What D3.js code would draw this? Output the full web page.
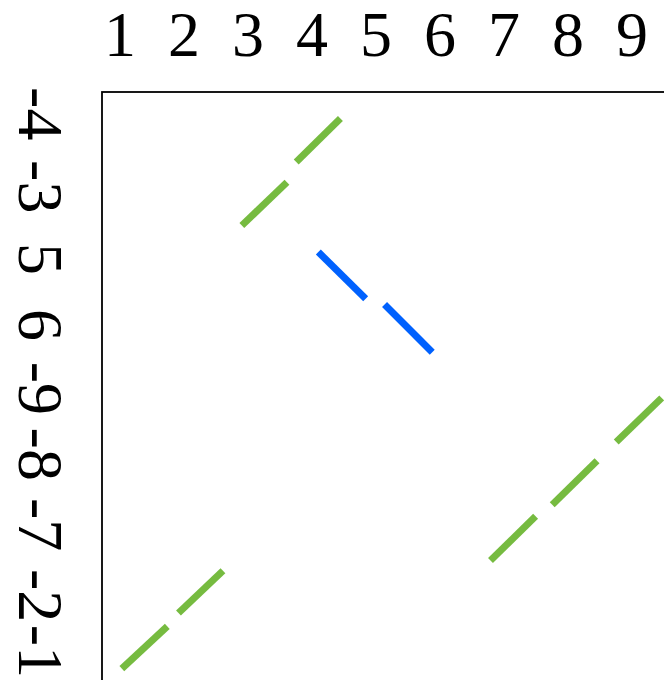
<!DOCTYPE html>
<html>
<head>
<meta charset="utf-8">
<script src="https://cdn.jsdelivr.net/npm/d3@7"></script>
<style>
  html, body { margin: 0; padding: 0; background: #fff; }
  svg { display: block; }
</style>
</head>
<body>
<div id="chart"></div>
<script>
// ---- data ----
const xLabels = ["1", "2", "3", "4", "5", "6", "7", "8", "9"];
const xTickPos = [2.8, 12.8, 22.8, 32.8, 42.8, 52.8, 62.8, 72.8, 82.8];
const yLabels = ["-4", "-3", "5", "6", "-9", "-8", "-7", "-2", "-1"];
const yTickPos = [3.4, 14.8, 26.1, 36.4, 46.3, 56.6, 67.6, 78.7, 87.4];

// synteny segments (genome coordinates)
const segX1 = [3.1, 11.95, 21.85, 30.35, 33.8, 44.15, 60.7, 70.35, 80.35];
const segY1 = [90.1, 81.4, 20.85, 10.95, 25.0, 33.2, 73.2, 64.5, 54.7];
const segX2 = [10.2, 18.9, 28.9, 37.25, 41.2, 51.6, 67.75, 77.35, 87.45];
const segY2 = [83.5, 74.8, 14.1, 4.15, 32.3, 40.65, 66.3, 57.6, 47.8];
const segStrand = ["-", "-", "-", "-", "+", "+", "-", "-", "-"];

// ---- layout ----
const W = 664, H = 680;
const marginLeft = 102, marginTop = 92;
const svg = d3.select("#chart").append("svg").attr("width", W).attr("height", H);
svg.append("rect").attr("width", W).attr("height", H).attr("fill", "#fff");

const x = d3.scaleLinear().domain([0, 100]).range([marginLeft, marginLeft + 640]);
const y = d3.scaleLinear().domain([0, 100]).range([marginTop, marginTop + 640]);
const color = d3.scaleOrdinal().domain(["+", "-"]).range(["#0061fe", "#76bb40"]);

// frame
svg.append("rect")
  .attr("x", x(0)).attr("y", y(0))
  .attr("width", x(100) - x(0)).attr("height", y(100) - y(0))
  .attr("fill", "none").attr("stroke", "#000").attr("stroke-width", 1.8);

const font = "'Liberation Serif', 'Times New Roman', serif";

// top labels
svg.append("g").selectAll("text").data(xLabels).join("text")
  .attr("x", (d, i) => x(xTickPos[i]))
  .attr("y", 56)
  .attr("text-anchor", "middle")
  .attr("font-family", font).attr("font-size", 64).attr("fill", "#000")
  .text(d => d);

// left labels (rotated)
svg.append("g").selectAll("text").data(yLabels).join("text")
  .attr("transform", (d, i) => `translate(19,${y(yTickPos[i])}) rotate(90)`)
  .attr("text-anchor", "middle")
  .attr("font-family", font).attr("font-size", 64).attr("fill", "#000")
  .text(d => d);

// segments
svg.append("g").selectAll("line").data(segX1).join("line")
  .attr("x1", (d, i) => x(segX1[i]))
  .attr("y1", (d, i) => y(segY1[i]))
  .attr("x2", (d, i) => x(segX2[i]))
  .attr("y2", (d, i) => y(segY2[i]))
  .attr("stroke", (d, i) => color(segStrand[i]))
  .attr("stroke-width", 7)
  .attr("stroke-linecap", "butt");
</script>
</body>
</html>
